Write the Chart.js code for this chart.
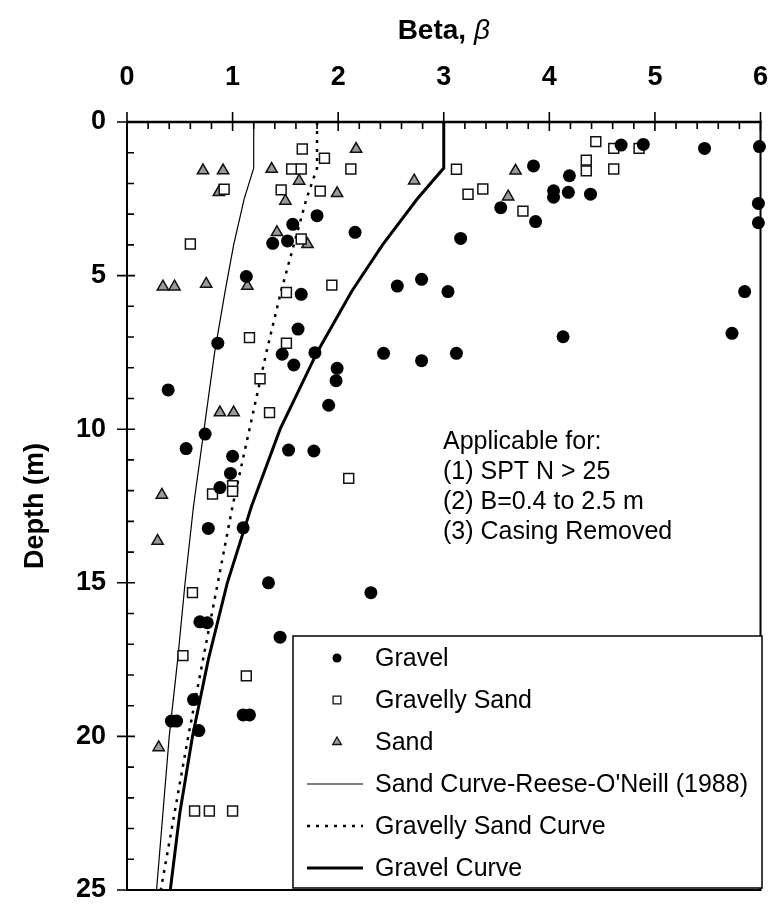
<!DOCTYPE html>
<html>
<head>
<meta charset="utf-8">
<script src="https://cdn.jsdelivr.net/npm/chart.js@4.4.1/dist/chart.umd.min.js"></script>
<style>
  html, body { margin: 0; padding: 0; background: #fff; }
  #wrap { width: 769px; height: 904px; position: relative; }
</style>
</head>
<body>
<div id="wrap"><canvas id="betaChart"></canvas></div>
<script>
// measured points (beta, depth in m)
const gravelBeta  = [4.68, 4.89, 5.47, 5.99, 3.85, 4.19, 4.04, 4.04, 4.18, 4.39, 3.54, 3.87, 3.16, 5.98, 5.98,
                     1.80, 1.57, 2.16, 1.38, 1.52, 1.13, 1.65, 2.56, 2.79, 3.04, 5.85, 1.62, 4.13, 5.73, 0.86,
                     1.47, 1.58, 1.78, 2.43, 2.79, 3.12, 1.99, 1.98, 0.39, 1.91, 0.74, 0.56, 1.53, 1.77, 1.00,
                     0.98, 0.88, 0.77, 1.10, 1.34, 2.31, 0.69, 0.76, 1.45, 0.63, 0.42, 0.47, 1.10, 1.16, 0.68];
const gravelDepth = [0.75, 0.73, 0.86, 0.80, 1.43, 1.75, 2.24, 2.45, 2.29, 2.35, 2.79, 3.24, 3.79, 2.65, 3.28,
                     3.05, 3.33, 3.59, 3.95, 3.87, 5.03, 5.61, 5.34, 5.12, 5.52, 5.52, 6.74, 6.99, 6.88, 7.20,
                     7.56, 7.91, 7.51, 7.53, 7.77, 7.53, 8.02, 8.42, 8.72, 9.22, 10.16, 10.63, 10.68, 10.71, 10.88,
                     11.44, 11.90, 13.23, 13.21, 15.00, 15.32, 16.27, 16.30, 16.77, 18.80, 19.50, 19.50, 19.30, 19.30, 19.81];

const gSandBeta  = [1.66, 1.87, 1.56, 1.65, 2.12, 0.92, 1.46, 1.83, 0.60, 1.65, 1.51, 1.94, 1.16, 1.51, 1.26,
                    1.35, 3.12, 3.23, 3.37, 3.75, 4.44, 4.61, 4.85, 4.35, 4.35, 4.61, 2.10, 0.81, 1.00, 1.00,
                    0.62, 0.53, 1.13, 0.64, 0.78, 1.00];
const gSandDepth = [0.88, 1.18, 1.53, 1.53, 1.53, 2.19, 2.21, 2.25, 3.97, 3.81, 5.55, 5.31, 7.02, 7.20, 8.36,
                    9.46, 1.54, 2.35, 2.18, 2.90, 0.64, 0.86, 0.86, 1.24, 1.59, 1.53, 11.60, 12.11, 11.84, 12.02,
                    15.32, 17.37, 18.03, 22.43, 22.43, 22.43];

const sandBeta  = [2.17, 0.72, 0.91, 1.37, 1.63, 0.87, 1.50, 1.99, 2.72, 1.42, 1.71, 0.34, 0.45, 0.75, 1.14,
                   3.68, 3.61, 0.88, 1.01, 0.33, 0.29, 0.30];
const sandDepth = [0.88, 1.58, 1.58, 1.53, 1.92, 2.29, 2.57, 2.32, 1.91, 3.59, 3.98, 5.36, 5.36, 5.27, 5.34,
                   1.59, 2.43, 9.46, 9.46, 12.14, 13.64, 20.36];

// design curves
const curveDepth            = [0, 1.5, 2.5, 4, 5.5, 7.5, 10, 12.5, 15, 17.5, 20, 22.5, 25];
const sandCurveBeta         = [1.2, 1.2, 1.11, 1.01, 0.93, 0.83, 0.73, 0.63, 0.55, 0.48, 0.40, 0.34, 0.28];
const gravellySandCurveBeta = [1.8, 1.8, 1.70, 1.58, 1.46, 1.32, 1.16, 1.00, 0.86, 0.72, 0.58, 0.45, 0.32];
const gravelCurveBeta       = [3.0, 3.0, 2.75, 2.42, 2.13, 1.80, 1.45, 1.18, 0.95, 0.77, 0.62, 0.50, 0.41];

const xTicks = [0, 1, 2, 3, 4, 5, 6];
const yTicks = [0, 5, 10, 15, 20, 25];
const notes = ['Applicable for:', '(1) SPT N > 25', '(2) B=0.4 to 2.5 m', '(3) Casing Removed'];

const FONT = "'Liberation Sans', Arial, Helvetica, sans-serif";

function pts(xs, ys) {
    return xs.map((x, i) => ({ x: x, y: ys[i] }));
}

const gravelStyle = { pointStyle: 'circle', radius: 6.5, bg: '#000', border: '#000', bw: 0 };
const gSandStyle  = { pointStyle: 'rect', radius: 7, bg: '#fff', border: '#111', bw: 1.5 };
const sandStyle   = { pointStyle: 'triangle', radius: 6.5, bg: '#9a9a9a', border: '#111', bw: 1.5 };

function pointSet(label, data, st) {
    return {
        label: label,
        data: data,
        showLine: false,
        pointStyle: st.pointStyle,
        pointRadius: st.radius,
        pointBackgroundColor: st.bg,
        pointBorderColor: st.border,
        pointBorderWidth: st.bw,
        clip: false
    };
}

function curveSet(label, betas, width, dash) {
    return {
        label: label,
        data: pts(betas, curveDepth),
        showLine: true,
        pointRadius: 0,
        borderColor: '#000',
        borderWidth: width,
        borderDash: dash,
        tension: 0,
        fill: false
    };
}

const legendItems = [
    { text: 'Gravel', marker: { pointStyle: 'circle', radius: 4.5, bg: '#000', border: '#000', bw: 0 } },
    { text: 'Gravelly Sand', marker: { pointStyle: 'rect', radius: 5.5, bg: '#fff', border: '#111', bw: 1.3 } },
    { text: 'Sand', marker: { pointStyle: 'triangle', radius: 5, bg: '#9a9a9a', border: '#111', bw: 1.3 } },
    { text: 'Sand Curve-Reese-O\'Neill (1988)', line: { width: 1.2, dash: [] } },
    { text: 'Gravelly Sand Curve', line: { width: 2.5, dash: [3, 6] } },
    { text: 'Gravel Curve', line: { width: 3, dash: [] } }
];

const decorations = {
    id: 'decorations',
    afterDraw(chart) {
        const ctx = chart.ctx;
        const a = chart.chartArea;
        const xs = chart.scales.x;
        const ys = chart.scales.y;
        ctx.save();
        ctx.strokeStyle = '#000';
        ctx.fillStyle = '#000';

        // frame
        ctx.lineWidth = 2;
        ctx.strokeRect(a.left, a.top, a.right - a.left, a.bottom - a.top);
        ctx.lineWidth = 2.6;
        ctx.beginPath();
        ctx.moveTo(a.left - 1, a.top);
        ctx.lineTo(a.right + 1, a.top);
        ctx.stroke();

        // top axis ticks
        ctx.lineWidth = 1.6;
        ctx.beginPath();
        for (let v = 0; v <= 30; v++) {
            const x = xs.getPixelForValue(v / 5);
            if (v % 5 === 0) {
                ctx.moveTo(x, a.top - 10);
                ctx.lineTo(x, a.top + 9);
            } else {
                ctx.moveTo(x, a.top);
                ctx.lineTo(x, a.top + 7);
            }
        }
        // left axis ticks
        for (let d = 0; d <= 25; d++) {
            const y = ys.getPixelForValue(d);
            if (d % 5 === 0) {
                ctx.moveTo(a.left - 10, y);
                ctx.lineTo(a.left + 8, y);
            } else {
                ctx.moveTo(a.left, y);
                ctx.lineTo(a.left + 7, y);
            }
        }
        ctx.stroke();

        // axis titles
        ctx.textBaseline = 'middle';
        const t1 = 'Beta, ';
        ctx.font = 'italic 28px ' + FONT;
        const wb = ctx.measureText('\u03B2').width;
        ctx.font = 'bold 28px ' + FONT;
        const w1 = ctx.measureText(t1).width;
        const cx = (a.left + a.right) / 2;
        const sx = cx - (w1 + wb) / 2;
        ctx.textAlign = 'left';
        ctx.fillText(t1, sx, 31);
        ctx.font = 'italic 28px ' + FONT;
        ctx.fillText('\u03B2', sx + w1, 31);

        ctx.save();
        ctx.translate(36, (a.top + a.bottom) / 2);
        ctx.rotate(-Math.PI / 2);
        ctx.textAlign = 'center';
        ctx.font = 'bold 27px ' + FONT;
        ctx.fillText('Depth (m)', 0, 0);
        ctx.restore();

        // notes
        ctx.font = '25px ' + FONT;
        ctx.textAlign = 'left';
        notes.forEach((n, i) => ctx.fillText(n, 443, 442 + i * 30));

        // legend box
        const lx = 293, ly = 636, lw = 762 - 293, lh = a.bottom - 2 - 636;
        ctx.fillStyle = '#fff';
        ctx.fillRect(lx, ly, lw, lh);
        ctx.lineWidth = 1.5;
        ctx.strokeRect(lx, ly, lw, lh);
        ctx.font = '25px ' + FONT;
        legendItems.forEach((it, i) => {
            const y = 658 + i * 42;
            if (it.marker) {
                const m = it.marker;
                ctx.fillStyle = m.bg;
                ctx.strokeStyle = m.border;
                ctx.lineWidth = m.bw;
                Chart.helpers.drawPoint(ctx, { pointStyle: m.pointStyle, radius: m.radius, rotation: 0, borderWidth: m.bw }, 337, y);
            } else {
                ctx.strokeStyle = '#000';
                ctx.lineWidth = it.line.width;
                ctx.setLineDash(it.line.dash);
                ctx.beginPath();
                ctx.moveTo(307, y);
                ctx.lineTo(363, y);
                ctx.stroke();
                ctx.setLineDash([]);
            }
            ctx.fillStyle = '#000';
            ctx.fillText(it.text, 375, y + 1);
        });
        ctx.restore();
    }
};

const canvas = document.getElementById('betaChart');
canvas.width = 769;
canvas.height = 904;

const betaChart = new Chart(canvas.getContext('2d'), {
    type: 'scatter',
    data: {
        datasets: [
            pointSet('Gravel', pts(gravelBeta, gravelDepth), gravelStyle),
            pointSet('Gravelly Sand', pts(gSandBeta, gSandDepth), gSandStyle),
            pointSet('Sand', pts(sandBeta, sandDepth), sandStyle),
            curveSet('Sand Curve-Reese-O\'Neill (1988)', sandCurveBeta, 1.2, []),
            curveSet('Gravelly Sand Curve', gravellySandCurveBeta, 2.5, [3, 6]),
            curveSet('Gravel Curve', gravelCurveBeta, 3, [])
        ]
    },
    options: {
        responsive: false,
        animation: false,
        events: [],
        layout: { padding: { left: 0, top: 0, right: 6, bottom: 14 } },
        scales: {
            x: {
                type: 'linear',
                position: 'top',
                min: 0,
                max: 6,
                afterBuildTicks: s => { s.ticks = xTicks.map(v => ({ value: v })); },
                afterFit: s => {
                    s.height = 122;
                    s.paddingLeft = 0;
                    s.paddingRight = 0;
                },
                grid: { display: false, drawTicks: false },
                border: { display: false },
                ticks: {
                    color: '#000',
                    padding: 28,
                    maxRotation: 0,
                    font: { family: FONT, size: 27, weight: 'bold' }
                }
            },
            y: {
                type: 'linear',
                reverse: true,
                min: 0,
                max: 25,
                afterBuildTicks: s => { s.ticks = yTicks.map(v => ({ value: v })); },
                afterFit: s => {
                    s.width = 127;
                    s.paddingTop = 0;
                    s.paddingBottom = 0;
                },
                grid: { display: false, drawTicks: false },
                border: { display: false },
                ticks: {
                    color: '#000',
                    padding: 21,
                    font: { family: FONT, size: 27, weight: 'bold' }
                }
            }
        },
        plugins: {
            legend: { display: false },
            tooltip: { enabled: false }
        }
    },
    plugins: [decorations]
});
</script>
</body>
</html>
